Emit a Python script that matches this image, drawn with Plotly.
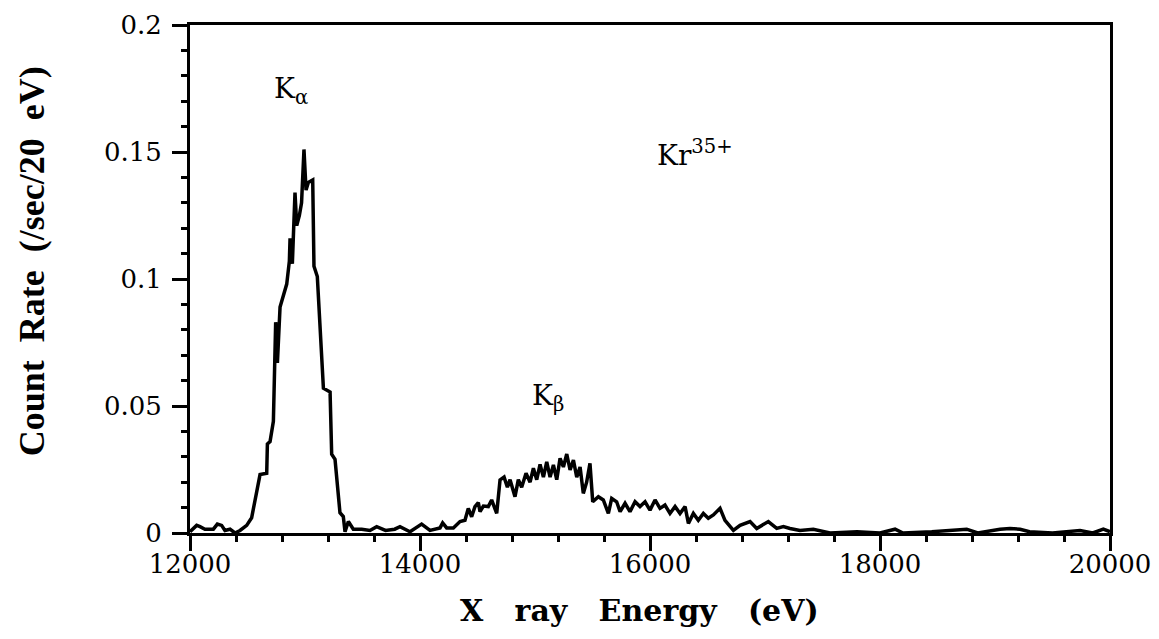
import plotly.graph_objects as go

# X-ray energy (eV) and count rate (/sec/20 eV)
energy_ev = [
    12000, 12058, 12087, 12130, 12203, 12238, 12275, 12304, 12348, 12391,
    12435, 12493, 12536, 12565, 12609, 12667, 12673, 12696, 12725, 12745,
    12760, 12783, 12841, 12864, 12870, 12890, 12899, 12913, 12928, 12951,
    12970, 12991, 13009, 13029, 13067, 13078, 13107, 13160, 13218, 13232,
    13261, 13304, 13333, 13348, 13377, 13420, 13493, 13565, 13623, 13700,
    13780,
    13826, 13913, 14014, 14087, 14174, 14197, 14232, 14290, 14348, 14391,
    14420, 14449, 14478, 14507, 14522, 14551, 14594, 14623, 14667, 14696,
    14731, 14760, 14783, 14826, 14855, 14884, 14922, 14957, 14986, 15015,
    15044, 15073, 15102, 15131, 15160, 15189, 15218, 15247, 15276, 15305,
    15334, 15363, 15392, 15420, 15449, 15478, 15502, 15551, 15594, 15638,
    15667, 15710, 15740, 15783, 15826, 15870, 15913, 15957, 16000, 16044,
    16087, 16130, 16174, 16218, 16261, 16305, 16334, 16377, 16420, 16464,
    16507, 16551, 16609, 16652, 16696, 16725, 16783, 16841,
    16870, 16928, 16980, 17029, 17102, 17160, 17217, 17304, 17420, 17565,
    17800, 18000, 18131, 18200, 18450, 18667, 18754, 18850, 19044, 19130,
    19218, 19300, 19500, 19739, 19850, 19942, 20000,
]
count_rate = [
    0.0005, 0.003, 0.0025, 0.0015, 0.0015, 0.0035, 0.003, 0.001, 0.0015, 0.0,
    0.001, 0.003, 0.006, 0.013, 0.023, 0.0235, 0.035, 0.036, 0.044, 0.083,
    0.067, 0.089, 0.098, 0.107, 0.116, 0.106, 0.121, 0.134, 0.121, 0.125,
    0.130, 0.151, 0.135, 0.138, 0.139, 0.105, 0.101, 0.057, 0.0555, 0.031,
    0.029, 0.008, 0.0065, 0.0005, 0.0045, 0.0015, 0.0015, 0.001, 0.0025, 0.001,
    0.0015,
    0.0025, 0.0005, 0.0035, 0.001, 0.002, 0.004, 0.002, 0.002, 0.0045, 0.005,
    0.0097, 0.0064, 0.0104, 0.012, 0.0084, 0.0106, 0.0104, 0.013, 0.0077, 0.0209,
    0.022, 0.018, 0.021, 0.0143, 0.021, 0.018, 0.0235, 0.020, 0.0255, 0.021,
    0.027, 0.022, 0.028, 0.022, 0.0268, 0.021, 0.0294, 0.026, 0.0311, 0.0248,
    0.0287, 0.022, 0.026, 0.0156, 0.020, 0.0274, 0.0123, 0.0143, 0.013, 0.0077,
    0.0136, 0.0123, 0.0084, 0.0117, 0.0084, 0.0123, 0.0104, 0.0123, 0.009, 0.013,
    0.0097, 0.011, 0.0077, 0.0104, 0.0077, 0.0104, 0.0038, 0.0077, 0.005, 0.0077,
    0.0058, 0.0071, 0.0097, 0.005, 0.0025, 0.001, 0.003, 0.0038,
    0.0045, 0.0018, 0.003, 0.0045, 0.0018, 0.0025, 0.0018, 0.001, 0.0015, 0.0,
    0.0005, 0.0, 0.0015, 0.0, 0.0005, 0.0012, 0.0015, 0.0, 0.0015, 0.0018,
    0.0015, 0.0005, 0.0, 0.001, 0.0, 0.0015, 0.0005,
]

x_range = [12000, 20000]
y_range = [0, 0.2]
x_major_step = 2000
x_minor_step = 400
y_major_step = 0.05
y_minor_step = 0.01

labels = ["K<sub>α</sub>", "K<sub>β</sub>", "Kr<sup>35+</sup>"]
label_x = [12714, 14957, 16040]
label_y = [0.1744, 0.0532, 0.1496]

NB = "\u00a0"

fig = go.Figure()
fig.add_trace(go.Scatter(
    x=energy_ev, y=count_rate, mode="lines",
    line=dict(color="black", width=3.5),
    showlegend=False, hoverinfo="skip",
))
# invisible anchor trace so the minor-tick overlay axes are drawn
fig.add_trace(go.Scatter(
    x=x_range, y=y_range, mode="markers", marker=dict(opacity=0),
    xaxis="x2", yaxis="y2", showlegend=False, hoverinfo="skip",
))

tick_font = dict(family="DejaVu Serif", size=26, color="black")

fig.update_layout(
    width=1151, height=631,
    margin=dict(l=182, r=49, t=17, b=106),
    plot_bgcolor="white", paper_bgcolor="white",
    showlegend=False,
    xaxis=dict(
        range=x_range, tickmode="linear", dtick=x_major_step, tick0=x_range[0],
        tickformat="d", showline=True, linewidth=3, linecolor="black",
        mirror=True, ticks="outside", ticklen=15, tickwidth=3,
        tickcolor="black", showgrid=False, zeroline=False, automargin=False,
        tickfont=tick_font, ticklabelstandoff=-9,
    ),
    yaxis=dict(
        range=y_range, tickmode="linear", dtick=y_major_step, tick0=y_range[0],
        showline=True, linewidth=3, linecolor="black",
        mirror=True, ticks="outside", ticklen=15, tickwidth=3,
        tickcolor="black", showgrid=False, zeroline=False, automargin=False,
        tickfont=tick_font, ticklabelstandoff=5,
    ),
    xaxis2=dict(
        range=x_range, overlaying="x", anchor="y2", side="bottom",
        tickmode="linear", dtick=x_minor_step, tick0=x_range[0],
        ticks="outside", ticklen=8, tickwidth=2.5, tickcolor="black",
        showticklabels=False, showline=False, showgrid=False,
        zeroline=False, automargin=False,
    ),
    yaxis2=dict(
        range=y_range, overlaying="y", anchor="x2", side="left",
        tickmode="linear", dtick=y_minor_step, tick0=y_range[0],
        ticks="outside", ticklen=8, tickwidth=2.5, tickcolor="black",
        showticklabels=False, showline=False, showgrid=False,
        zeroline=False, automargin=False,
    ),
)

for t, lx, ly in zip(labels, label_x, label_y):
    fig.add_annotation(x=lx, y=ly, xref="x", yref="y", text=t,
                       showarrow=False, xanchor="left", yanchor="middle",
                       font=dict(family="DejaVu Serif", size=28, color="black"))

fig.add_annotation(
    x=0.5, y=-0.1516, xref="paper", yref="paper", xshift=-11,
    text="<b>X" + NB * 3 + "ray" + NB * 3 + "Energy" + NB * 3 + "(eV)</b>",
    showarrow=False, xanchor="center", yanchor="middle",
    font=dict(family="DejaVu Serif", size=30, color="black"),
)
fig.add_annotation(
    x=-0.1717, y=0.535, xref="paper", yref="paper", textangle=-90,
    text="<b>Count" + NB * 2 + "Rate" + NB * 2 + "(/sec/20" + NB * 2 + "eV)</b>",
    showarrow=False, xanchor="center", yanchor="middle",
    font=dict(family="Liberation Serif", size=36, color="black"),
)

fig.write_html("out.html")
